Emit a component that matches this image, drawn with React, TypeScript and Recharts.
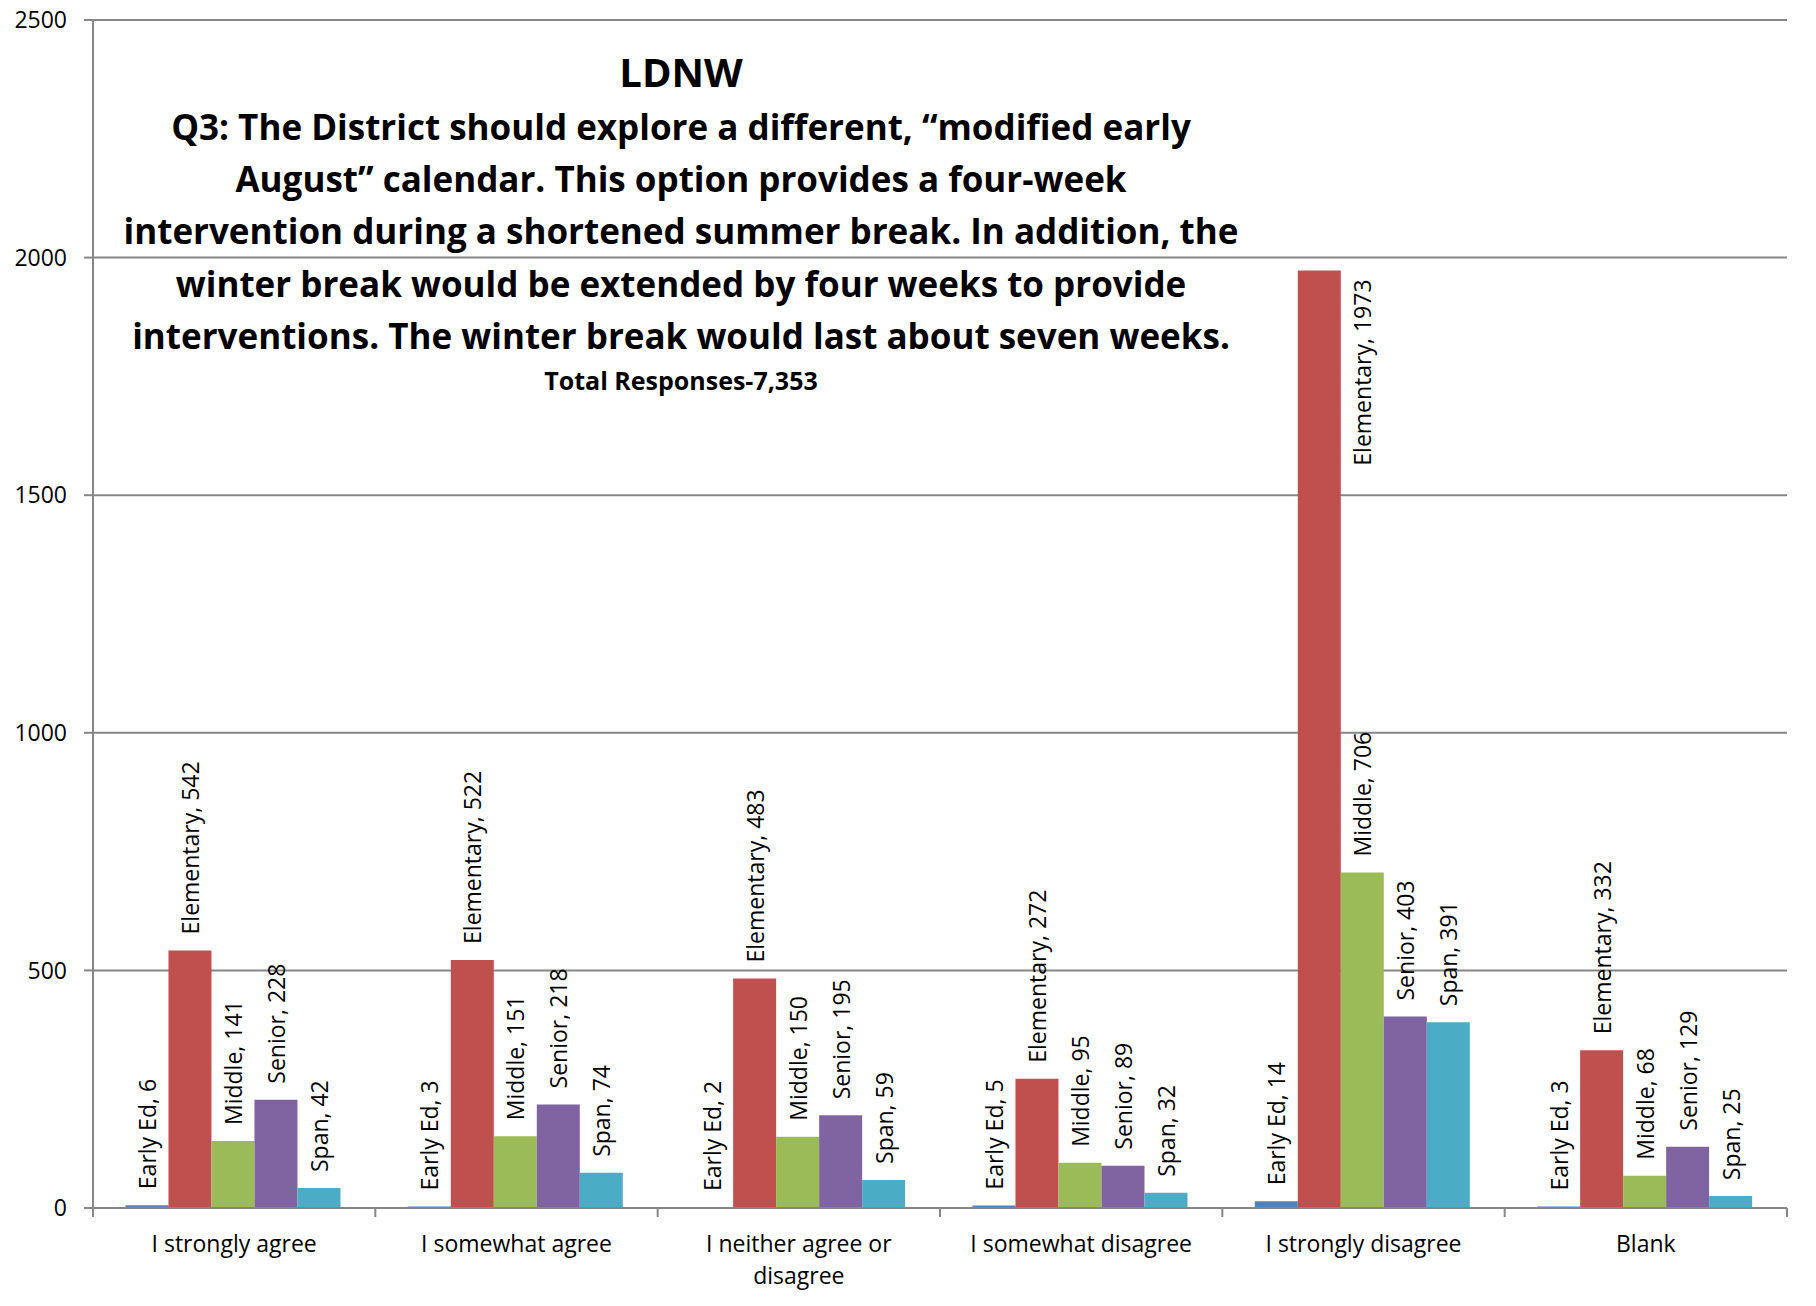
import { BarChart, Bar, XAxis, YAxis, CartesianGrid, LabelList } from "recharts";

const categories = [
  "I strongly agree",
  "I somewhat agree",
  "I neither agree or disagree",
  "I somewhat disagree",
  "I strongly disagree",
  "Blank",
];
const earlyEd = [6, 3, 2, 5, 14, 3];
const elementary = [542, 522, 483, 272, 1973, 332];
const middle = [141, 151, 150, 95, 706, 68];
const senior = [228, 218, 195, 89, 403, 129];
const span = [42, 74, 59, 32, 391, 25];
const yTicks = [0, 500, 1000, 1500, 2000, 2500];

const titleMain = "LDNW";
const titleLines = [
  "Q3: The District should explore a different, \u201cmodified early",
  "August\u201d calendar. This option provides a four-week",
  "intervention during a shortened summer break. In addition, the",
  "winter break would be extended by four weeks to provide",
  "interventions. The winter break would last about seven weeks.",
];
const subtitle = "Total Responses-7,353";

const series = [
  { key: "earlyEd", name: "Early Ed", color: "#4F81BD", values: earlyEd },
  { key: "elementary", name: "Elementary", color: "#C0504D", values: elementary },
  { key: "middle", name: "Middle", color: "#9BBB59", values: middle },
  { key: "senior", name: "Senior", color: "#8064A2", values: senior },
  { key: "span", name: "Span", color: "#4BACC6", values: span },
];

const data = categories.map((category, i) => {
  const row: Record<string, string | number> = { category };
  series.forEach((s) => (row[s.key] = s.values[i]));
  return row;
});

// chart fills the whole page (wrapper cancels the body margin)
const W = 1816;
const H = 1306;
const MARGIN = { top: 20, right: 29, left: 0, bottom: 38 };
const Y_AXIS_W = 93;
const BAND = (W - MARGIN.left - MARGIN.right - Y_AXIS_W) / categories.length;
const FONT = "'Open Sans', sans-serif";
const LABEL_FS = 23;
const TITLE_BOTTOM = 410;
const TITLE_CX = 681;
const AXIS_COLOR = "#868686";
const WRAP_CHARS = 20;

// greedy word wrap, like Excel does for long category names
function wrapWords(s: string): string[] {
  const lines: string[] = [];
  let cur = "";
  s.split(" ").forEach((w) => {
    const next = cur ? cur + " " + w : w;
    if (next.length > WRAP_CHARS && cur) {
      lines.push(cur);
      cur = w;
    } else cur = next;
  });
  if (cur) lines.push(cur);
  return lines;
}

const makeLabel = (name: string) => (props: any) => {
  const { x, y, width, value } = props;
  const text = `${name}, ${value}`;
  const estLen = text.length * 0.5 * LABEL_FS;
  let lx = x + width / 2;
  let ly = y - 16;
  let anchor: "start" | "end" = "start";
  if (ly - estLen < TITLE_BOTTOM) {
    // no room above: Excel tucks it beside the bar top
    lx = x + width * 1.5;
    ly = y + 9;
    anchor = "end";
  }
  return (
    <text
      x={lx}
      y={ly}
      transform={`rotate(-90, ${lx}, ${ly})`}
      textAnchor={anchor}
      dominantBaseline="central"
      fontFamily={FONT}
      fontSize={LABEL_FS}
      fill="#000"
    >
      {text}
    </text>
  );
};

function CategoryTick(props: any) {
  const { x, y, payload, index } = props;
  const half = BAND / 2;
  const lines = wrapWords(String(payload.value));
  return (
    <g>
      <line x1={x - half} x2={x - half} y1={y} y2={y + 9} stroke={AXIS_COLOR} strokeWidth={2} />
      {index === categories.length - 1 && (
        <line x1={x + half} x2={x + half} y1={y} y2={y + 9} stroke={AXIS_COLOR} strokeWidth={2} />
      )}
      {lines.map((ln, i) => (
        <text
          key={i}
          x={x}
          y={y + 35 + i * 32}
          textAnchor="middle"
          dominantBaseline="central"
          fontFamily={FONT}
          fontSize={23}
          fill="#000"
        >
          {ln}
        </text>
      ))}
    </g>
  );
}

export default function App() {
  return (
    <div style={{ position: "relative", width: W, height: H, margin: -8, background: "#fff" }}>
      <BarChart
        width={W}
        height={H}
        data={data}
        margin={MARGIN}
        barCategoryGap="11.5%"
        barGap={0}
      >
        <CartesianGrid vertical={false} stroke={AXIS_COLOR} strokeWidth={2} />
        <XAxis
          dataKey="category"
          interval={0}
          height={60}
          axisLine={{ stroke: AXIS_COLOR, strokeWidth: 2 }}
          tickLine={false}
          tickSize={0}
          tickMargin={0}
          tick={<CategoryTick />}
        />
        <YAxis
          width={Y_AXIS_W}
          domain={[0, 2500]}
          ticks={yTicks}
          interval={0}
          axisLine={{ stroke: AXIS_COLOR, strokeWidth: 2 }}
          tickLine={{ stroke: AXIS_COLOR, strokeWidth: 2 }}
          tickSize={9}
          tickMargin={17}
          tick={{ fill: "#000", fontSize: 23, fontFamily: FONT }}
        />
        {series.map((s) => (
          <Bar key={s.key} dataKey={s.key} name={s.name} fill={s.color} isAnimationActive={false}>
            <LabelList dataKey={s.key} content={makeLabel(s.name)} />
          </Bar>
        ))}
      </BarChart>
      <div
        style={{
          position: "absolute",
          left: TITLE_CX - 650,
          top: 0,
          width: 1300,
          textAlign: "center",
          fontFamily: FONT,
          fontWeight: 700,
          color: "#000",
          pointerEvents: "none",
        }}
      >
        <div style={{ position: "absolute", top: 72 - 28, width: "100%", fontSize: 40, lineHeight: "56px" }}>
          {titleMain}
        </div>
        {titleLines.map((line, i) => (
          <div
            key={i}
            style={{ position: "absolute", top: 127 - 26 + i * 52.2, width: "100%", fontSize: 35, lineHeight: "52px" }}
          >
            {line}
          </div>
        ))}
        <div style={{ position: "absolute", top: 380 - 16, width: "100%", fontSize: 25, lineHeight: "32px" }}>
          {subtitle}
        </div>
      </div>
    </div>
  );
}
